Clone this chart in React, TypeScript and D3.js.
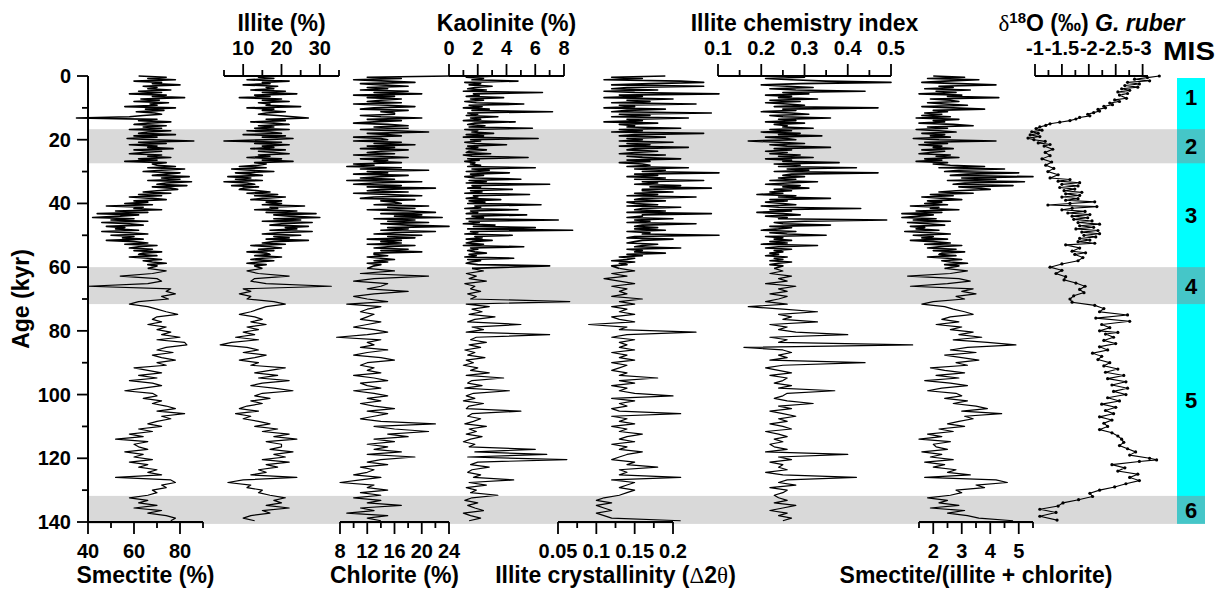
import React from "react";
import * as d3 from "d3";

// ---------------- DATA ----------------
const ages = [
  0,0.4,0.8,1.2,1.6,2,2.4,2.8,3.2,3.6,
  4,4.4,4.8,5.2,5.6,6,6.4,6.8,7.2,7.6,
  8,8.4,8.8,9.2,9.6,10,10.4,10.8,11.2,11.6,
  12,12.4,12.8,13.2,13.6,14,14.4,14.8,15.2,15.6,
  16,16.4,16.8,17.2,17.6,18,18.4,18.8,19.2,19.6,
  20,20.4,20.8,21.2,21.6,22,22.4,22.8,23.2,23.6,
  24,24.4,24.8,25.2,25.6,26,26.4,26.8,27.2,27.6,
  28,28.4,28.8,29.2,29.6,30,30.4,30.8,31.2,31.6,
  32,32.4,32.8,33.2,33.6,34,34.4,34.8,35.2,35.6,
  36,36.4,36.8,37.2,37.6,38,38.4,38.8,39.2,39.6,
  40,40.4,40.8,41.2,41.6,42,42.4,42.8,43.2,43.6,
  44,44.4,44.8,45.2,45.6,46,46.4,46.8,47.2,47.6,
  48,48.4,48.8,49.2,49.6,50,50.4,50.8,51.2,51.6,
  52,52.4,52.8,53.2,53.6,54,54.4,54.8,55.2,55.6,
  56,56.4,56.8,57.2,57.6,58,58.4,58.8,59.2,59.6,
  60.4,61.2,62,62.8,63.6,64.4,65.2,66,66.8,67.6,
  68.4,69.2,70,70.8,71.6,72.4,73.2,74,74.8,75.6,
  76.4,77.2,78,78.8,79.6,80.4,81.2,82,82.8,83.6,
  84.4,85.2,86,86.8,87.6,88.4,89.2,90,90.8,91.6,
  92.4,93.2,94,94.8,95.6,96.4,97.2,98,98.8,99.6,
  100.4,101.2,102,102.8,103.6,104.4,105.2,106,106.8,107.6,
  108.4,109.2,110,110.8,111.6,112.4,113.2,114,114.8,115.6,
  116.4,117.2,118,118.8,119.6,120.4,121.2,122,122.8,123.6,
  124.4,125.2,126,126.8,127.6,128.4,129.2,130,130.8,131.6,
  132.4,133.2,134,134.8,135.6,136.4,137.2,138,138.8,139.6,
];

const smectite = [
  62,74,66,78,60,72,68,80,64,70,
  66,76,62,72,58,74,68,82,63,71,
  60,75,67,70,56,78,65,73,61,69,
  72,64,58,35,70,62,76,66,60,74,
  64,72,58,76,66,62,78,60,70,57,
  68,86,62,74,58,70,66,77,60,72,
  64,58,72,66,76,62,70,56,74,68,
  70,78,66,82,72,64,80,74,68,84,
  72,80,66,85,74,70,83,68,76,79,
  70,64,76,62,72,58,68,74,60,66,
  56,68,48,64,60,72,52,66,44,62,
  54,42,60,50,66,46,58,64,48,56,
  52,62,46,58,66,50,60,55,64,48,
  60,66,56,70,62,58,68,60,72,64,
  62,70,58,66,72,64,68,74,66,70,
  66,74,68,54,70,72,66,40,76,74,
  78,72,75,62,58,66,70,74,79,70,
  68,72,66,74,70,76,72,80,70,82,
  83,74,70,77,68,72,78,70,74,60,
  66,72,62,70,58,68,72,64,56,68,
  70,64,72,68,74,78,70,82,72,76,
  70,66,72,62,68,58,64,52,66,60,
  62,66,56,64,60,68,58,66,62,70,
  66,72,52,76,78,72,74,68,70,66,
  58,66,62,70,60,72,66,74,78,76,
];

const illite = [
  20,14,18,11,22,15,17,10,19,16,
  18,12,21,15,24,13,17,9,20,15,
  22,14,17,16,25,11,18,15,21,16,
  14,19,23,27,16,21,12,18,22,14,
  18,13,22,11,17,20,10,21,15,23,
  16,5,20,13,22,15,18,12,21,14,
  18,22,14,17,11,20,15,23,13,16,
  14,9,16,7,12,18,8,12,15,6,
  12,8,15,5,11,13,7,14,10,9,
  14,17,11,19,13,21,15,12,20,16,
  20,15,26,17,19,13,24,16,29,18,
  22,30,18,25,15,28,20,17,27,21,
  24,17,28,19,15,25,18,22,16,27,
  18,15,21,12,17,20,14,18,11,16,
  17,13,20,15,12,18,14,11,16,13,
  15,11,14,22,13,12,16,33,10,12,
  9,12,11,18,21,16,14,12,9,13,
  15,12,16,11,14,10,13,8,14,7,
  4,11,14,10,16,13,9,14,12,21,
  17,13,19,14,22,15,12,18,23,15,
  13,17,12,15,11,9,14,8,12,10,
  14,17,13,19,15,22,18,24,16,20,
  20,17,23,18,21,15,22,16,19,14,
  16,12,24,10,6,12,11,15,14,17,
  21,18,20,16,22,15,17,12,10,13,
];

const chlorite = [
  24,12,17,10,15,19,11,14,18,12,
  15,11,18,13,20,10,16,12,17,14,
  12,17,10,15,19,13,11,18,14,16,
  16,11,14,20,12,17,13,10,15,18,
  13,18,11,16,21,12,15,17,10,14,
  15,10,17,13,19,12,16,11,18,14,
  12,16,10,14,18,11,15,13,17,10,
  13,9,17,11,21,12,15,10,18,14,
  11,16,9,20,13,10,17,12,22,14,
  12,18,10,15,20,13,11,19,14,16,
  17,13,21,15,19,12,18,22,14,20,
  16,23,13,19,15,21,14,18,24,15,
  18,14,22,16,13,20,15,19,12,17,
  14,17,12,19,15,13,18,14,20,13,
  13,15,12,14,16,13,15,12,14,13,
  12,16,11,21,13,10,15,14,12,18,
  13,10,12,15,9,14,12,11,13,12,
  11,14,12,10,13,15,12,7.5,14,12,
  13,11,15,12,10,14,16,12,11,13,
  12,14,10,13,15,11,12,14,10,13,
  15,12,14,11,13,16,12,15,13,11,
  14,22,13,16,21,15,18,13,16,12,
  15,13,17,12,19,14,12,15,11,13,
  12,10,14,11,8,13,12,15,11,14,
  10,14,12,17,11,13,9,15,12,14,
];

const kaolinite = [
  3.5,1.2,2.4,1.6,4.8,1.1,2.2,1.4,3.0,1.8,
  1.3,2.6,1.0,6.5,1.7,2.1,1.2,3.8,1.5,2.4,
  1.1,1.9,5.2,1.4,2.3,1.0,2.8,1.6,7.2,1.3,
  2.0,1.2,3.4,1.5,2.2,1.0,4.6,1.8,1.3,2.5,
  1.4,5.8,1.1,2.0,1.6,3.1,1.2,2.4,1.0,6.2,
  1.5,2.2,1.1,1.8,4.0,1.3,2.0,1.2,2.6,1.4,
  1.2,2.9,1.0,1.6,5.5,1.3,2.1,1.1,1.8,1.5,
  2.2,1.3,6.0,1.6,2.8,1.2,4.2,1.5,2.4,1.1,
  1.8,5.0,1.4,2.6,1.2,7.0,1.6,2.2,1.3,4.4,
  1.5,2.3,1.1,5.6,1.7,2.0,1.2,3.6,1.4,2.5,
  1.3,6.4,1.8,2.2,1.1,4.8,1.5,2.0,1.2,5.4,
  1.6,2.4,1.2,7.6,1.4,2.1,1.0,3.2,1.7,6.0,
  1.3,8.6,1.5,2.0,1.1,4.4,1.8,2.3,1.2,3.0,
  1.6,1.2,2.4,1.0,5.2,1.5,2.0,1.3,1.8,2.6,
  1.4,1.9,1.1,4.5,1.3,2.2,1.5,1.2,2.0,7.0,
  1.6,2.4,1.2,1.9,1.4,2.6,1.1,1.8,1.5,2.2,
  1.3,1.9,1.5,8.4,1.2,2.8,1.6,2.3,1.4,3.2,
  1.8,1.3,5.0,1.6,2.4,1.2,7.0,1.9,1.5,2.6,
  1.4,2.2,1.1,1.8,1.3,2.5,1.2,1.7,1.0,2.0,
  1.5,2.8,1.2,3.8,1.6,1.3,2.3,1.1,4.2,1.7,
  1.2,1.8,1.0,2.4,1.4,1.2,5.0,1.6,1.3,2.2,
  1.7,1.1,2.6,1.4,1.9,1.2,2.3,1.5,1.0,1.8,
  1.4,6.0,1.8,6.8,1.3,8.2,2.0,1.5,2.8,1.6,
  1.3,2.2,1.7,4.5,1.4,2.6,1.2,1.9,1.5,3.4,
  1.6,1.1,2.0,1.3,1.8,2.4,1.0,1.5,2.2,1.4,
];

const crystallinity = [
  0.19,0.12,0.16,0.11,0.21,0.24,0.17,0.12,0.24,0.14,
  0.12,0.18,0.11,0.15,0.26,0.13,0.16,0.11,0.20,0.14,
  0.17,0.12,0.23,0.13,0.15,0.11,0.19,0.14,0.12,0.25,
  0.13,0.17,0.12,0.22,0.14,0.16,0.11,0.18,0.13,0.15,
  0.14,0.21,0.13,0.16,0.12,0.24,0.15,0.13,0.19,0.14,
  0.16,0.13,0.20,0.14,0.17,0.13,0.22,0.15,0.14,0.18,
  0.15,0.13,0.19,0.14,0.16,0.21,0.14,0.17,0.13,0.16,
  0.17,0.14,0.22,0.15,0.19,0.16,0.26,0.15,0.18,0.14,
  0.19,0.15,0.24,0.16,0.18,0.15,0.21,0.17,0.25,0.16,
  0.16,0.20,0.15,0.18,0.14,0.23,0.16,0.15,0.19,0.14,
  0.15,0.18,0.14,0.21,0.16,0.15,0.19,0.14,0.25,0.16,
  0.16,0.14,0.20,0.15,0.17,0.14,0.23,0.16,0.15,0.18,
  0.15,0.19,0.14,0.17,0.16,0.26,0.15,0.14,0.20,0.16,
  0.15,0.14,0.18,0.16,0.15,0.21,0.14,0.16,0.15,0.19,
  0.14,0.16,0.13,0.15,0.14,0.12,0.15,0.13,0.14,0.12,
  0.13,0.15,0.12,0.14,0.11,0.13,0.15,0.12,0.14,0.13,
  0.14,0.12,0.16,0.13,0.15,0.12,0.14,0.13,0.15,0.12,
  0.13,0.15,0.09,0.14,0.13,0.23,0.14,0.12,0.15,0.13,
  0.14,0.13,0.15,0.12,0.14,0.13,0.15,0.12,0.14,0.13,
  0.12,0.14,0.13,0.18,0.13,0.15,0.12,0.14,0.13,0.15,
  0.20,0.12,0.15,0.13,0.14,0.12,0.13,0.21,0.12,0.14,
  0.13,0.15,0.12,0.14,0.13,0.16,0.14,0.13,0.15,0.12,
  0.14,0.13,0.16,0.14,0.13,0.12,0.15,0.14,0.18,0.13,
  0.14,0.13,0.21,0.12,0.15,0.14,0.13,0.15,0.14,0.13,
  0.11,0.10,0.12,0.10,0.11,0.12,0.10,0.11,0.12,0.21,
];

const chemistry = [
  0.24,0.30,0.21,0.27,0.35,0.50,0.29,0.20,0.26,0.32,
  0.22,0.28,0.44,0.25,0.31,0.21,0.27,0.24,0.33,0.22,
  0.29,0.21,0.26,0.30,0.23,0.47,0.25,0.28,0.20,0.27,
  0.31,0.22,0.25,0.36,0.24,0.28,0.21,0.30,0.23,0.26,
  0.25,0.32,0.22,0.27,0.20,0.29,0.24,0.34,0.21,0.26,
  0.28,0.17,0.24,0.30,0.22,0.26,0.36,0.23,0.27,0.21,
  0.26,0.22,0.29,0.24,0.32,0.21,0.27,0.25,0.38,0.23,
  0.29,0.24,0.42,0.26,0.31,0.23,0.47,0.27,0.25,0.30,
  0.24,0.28,0.22,0.33,0.26,0.21,0.29,0.25,0.31,0.23,
  0.27,0.22,0.25,0.19,0.28,0.24,0.36,0.22,0.26,0.21,
  0.25,0.28,0.20,0.24,0.43,0.22,0.27,0.19,0.25,0.29,
  0.21,0.26,0.24,0.49,0.30,0.23,0.25,0.36,0.22,0.27,
  0.24,0.20,0.28,0.22,0.26,0.35,0.21,0.25,0.23,0.27,
  0.22,0.26,0.20,0.33,0.24,0.21,0.27,0.23,0.25,0.22,
  0.24,0.21,0.26,0.23,0.25,0.22,0.27,0.24,0.22,0.25,
  0.23,0.25,0.22,0.27,0.24,0.26,0.21,0.28,0.24,0.26,
  0.22,0.26,0.24,0.21,0.26,0.17,0.25,0.33,0.24,0.27,
  0.25,0.33,0.22,0.26,0.24,0.28,0.40,0.22,0.26,0.24,
  0.55,0.16,0.25,0.27,0.24,0.26,0.22,0.44,0.25,0.21,
  0.24,0.27,0.22,0.26,0.25,0.23,0.27,0.24,0.37,0.26,
  0.25,0.23,0.26,0.32,0.24,0.27,0.22,0.25,0.28,0.24,
  0.26,0.22,0.25,0.27,0.21,0.24,0.26,0.23,0.25,0.22,
  0.23,0.26,0.21,0.40,0.24,0.27,0.22,0.25,0.24,0.26,
  0.21,0.25,0.42,0.26,0.24,0.28,0.22,0.26,0.25,0.23,
  0.24,0.26,0.23,0.28,0.25,0.22,0.26,0.24,0.27,0.25,
];

const ratio = [
  2.0,3.1,1.8,3.6,2.4,1.6,2.9,4.2,2.2,2.7,
  1.7,3.3,2.1,2.8,1.5,3.0,2.5,4.3,1.9,2.6,
  2.9,1.8,2.4,3.2,1.6,2.7,3.8,2.0,2.5,1.7,
  2.3,1.6,2.6,1.4,2.9,2.0,2.4,1.5,2.7,3.4,
  1.8,2.5,1.4,2.2,2.8,1.6,2.4,1.9,2.6,1.3,
  2.2,4.2,1.7,2.5,1.5,2.3,2.0,2.7,1.6,2.4,
  1.9,1.5,2.6,2.1,2.9,1.7,2.3,1.4,2.5,2.0,
  2.6,3.8,2.2,4.5,2.9,2.4,5.0,3.2,2.6,5.5,
  3.0,4.2,2.5,5.2,3.1,2.7,4.8,2.9,3.6,4.0,
  2.8,2.2,3.4,1.9,2.7,1.6,2.4,3.0,1.8,2.3,
  1.7,2.5,1.2,2.2,1.9,2.9,1.4,2.3,0.9,2.0,
  1.5,0.9,2.1,1.3,2.6,1.1,1.8,2.4,1.2,1.7,
  1.4,2.2,1.0,1.9,2.6,1.3,2.0,1.6,2.5,1.2,
  2.0,2.6,1.7,3.0,2.2,1.8,2.8,2.0,3.1,2.3,
  2.2,2.8,1.8,2.5,3.0,2.3,2.6,3.2,2.4,2.9,
  2.4,3.2,2.6,1.1,2.9,3.3,2.5,1.2,3.4,3.0,
  3.5,2.8,3.1,2.0,1.6,2.4,2.7,3.1,3.4,2.6,
  2.3,2.9,2.1,3.0,2.6,3.4,2.9,3.7,2.7,3.9,
  4.9,3.2,2.6,3.5,2.4,3.0,3.6,2.8,3.2,1.9,
  2.4,3.1,2.1,2.9,1.7,2.6,3.2,2.3,1.8,2.8,
  3.0,2.4,3.2,2.7,3.5,3.9,3.0,4.4,3.1,3.4,
  2.9,2.5,3.1,2.2,2.7,1.8,2.3,1.5,2.6,2.0,
  2.1,2.5,1.6,2.3,1.9,2.7,1.7,2.4,2.0,2.8,
  2.5,3.3,1.7,4.2,4.6,3.5,3.8,2.8,3.0,2.6,
  1.8,2.5,2.2,2.9,1.9,3.1,2.5,3.2,3.6,4.8,
];

// δ18O G. ruber: [age kyr, ‰]
const d18O: [number, number][] = [
  [0,-3.31],[0.5,-3.09],[1,-2.85],[1.5,-3.13],[2,-2.72],[2.5,-2.94],[3,-2.67],[3.5,-2.91],[4,-2.61],[4.5,-2.76],
  [5,-2.54],[5.5,-2.72],[6,-2.57],[7,-2.7],[7.5,-2.48],[8,-2.57],[8.5,-2.39],[9,-2.44],[9.5,-2.28],[10,-2.31],
  [10.5,-2.17],[11,-2.2],[11.5,-2.09],[12,-1.98],[12.5,-2.02],[13,-1.83],[13.5,-1.76],[14,-1.65],[14.5,-1.46],[15,-1.28],
  [15.5,-1.2],[16,-1.09],[16.5,-1.02],[17,-1.13],[17.5,-0.94],[18,-1.06],[18.5,-0.91],[19,-1.09],[19.5,-0.87],[20,-0.98],
  [20.5,-1.19],[21,-1.06],[21.5,-1.28],[22,-1.17],[23,-1.33],[24,-1.19],[25,-1.28],[26,-1.13],[27,-1.31],[28,-1.2],
  [29,-1.35],[30,-1.24],[31,-1.43],[32,-1.28],[32.5,-1.65],[33,-1.43],[33.5,-1.83],[34,-1.5],[34.5,-1.8],[35,-1.46],
  [35.5,-1.74],[36,-1.54],[36.5,-1.87],[37,-1.57],[37.5,-1.83],[38,-1.5],[38.5,-1.8],[39,-1.57],[39.5,-2.11],[40,-1.65],
  [40.5,-1.24],[41,-2.15],[41.5,-1.69],[42,-1.5],[42.5,-1.93],[43,-1.61],[43.5,-2.02],[44,-1.69],[44.5,-1.98],[45,-1.72],
  [45.5,-2.06],[46,-1.8],[46.5,-2.2],[47,-1.83],[47.5,-2.09],[48,-1.76],[48.5,-2.17],[49,-1.87],[49.5,-2.2],[50,-1.91],
  [50.5,-2.13],[51,-1.83],[51.5,-2.02],[52,-1.8],[52.5,-2.11],[53,-1.57],[54,-1.83],[55,-1.69],[55.5,-1.94],[56,-1.74],
  [57,-1.89],[58,-1.8],[59,-1.5],[60,-1.28],[61,-1.5],[62,-1.39],[63,-1.57],[64,-1.54],[65,-1.76],[66,-1.93],
  [67,-1.83],[68,-1.91],[69,-1.72],[70,-1.65],[71,-1.69],[72,-2.11],[73,-2.28],[74,-2.2],[75,-2.72],[76,-2.13],
  [77,-2.76],[78,-2.24],[79,-2.39],[80,-2.2],[80.5,-2.54],[81,-2.31],[82,-2.46],[83,-2.28],[84,-2.5],[85,-2.2],
  [86,-2.35],[87,-2.07],[88,-2.24],[89,-2.17],[90,-2.39],[91,-2.28],[92,-2.54],[93,-2.31],[94,-2.65],[95,-2.35],
  [96,-2.69],[97,-2.43],[98,-2.72],[99,-2.46],[100,-2.69],[101,-2.35],[102,-2.57],[103,-2.24],[104,-2.5],[105,-2.31],
  [106,-2.46],[107,-2.2],[108,-2.43],[109,-2.28],[110,-2.35],[111,-2.2],[112,-2.43],[113,-2.54],[114,-2.61],[115,-2.65],
  [116,-2.57],[117,-2.72],[118,-2.87],[119,-2.76],[120,-3.13],[120.5,-3.26],[121,-2.94],[122,-2.43],[123,-2.67],[124,-2.54],
  [125,-2.91],[126,-2.76],[127,-2.94],[128,-2.69],[129,-2.48],[130,-2.2],[131,-2.02],[132,-2.07],[133,-1.81],[134,-1.52],
  [135,-1.43],[136,-1.09],[137,-1.39],[138.2,-1.09],[139.4,-1.41],
];

const misBands = [
  { start: 16.7, end: 27.4 },
  { start: 60, end: 71.6 },
  { start: 131.8, end: 140.6 },
];
const misLabels = [
  { label: "1", age: 6.5 },
  { label: "2", age: 22 },
  { label: "3", age: 43.7 },
  { label: "4", age: 65.8 },
  { label: "5", age: 101.7 },
  { label: "6", age: 136.2 },
];

const ageTicks = [0, 20, 40, 60, 80, 100, 120, 140];
const ageMinorTicks = [10, 30, 50, 70, 90, 110, 130];

const smectiteTicks = [40, 60, 80];
const smectiteMinor = [50, 70, 90];
const illiteTicks = [10, 20, 30];
const illiteMinor = [5, 15, 25, 35];
const chloriteTicks = [8, 12, 16, 20, 24];
const chloriteMinor = [10, 14, 18, 22];
const kaoliniteTicks = [0, 2, 4, 6, 8];
const kaoliniteMinor = [1, 3, 5, 7];
const crystTicks = [0.05, 0.1, 0.15, 0.2];
const crystMinor = [0.075, 0.125, 0.175];
const chemTicks = [0.1, 0.2, 0.3, 0.4, 0.5];
const chemMinor = [0.15, 0.25, 0.35, 0.45];
const ratioTicks = [2, 3, 4, 5];
const ratioMinor = [1.5, 2.5, 3.5, 4.5, 5.5];
const d18OTicks = [-1, -1.5, -2, -2.5, -3];
const d18OMinor = [-1.25, -1.75, -2.25, -2.75];

// ---------------- CHART ----------------
const FONT = "'Liberation Sans', Arial, Helvetica, sans-serif";
const SERIF = "'Liberation Serif', 'Times New Roman', serif";
const DENSE_END_AGE = 60; // high-resolution part of the record

type Panel = {
  id: string;
  values: number[];
  domain: [number, number];
  range: [number, number];
  side: "top" | "bottom";
  major: number[];
  minor: number[];
  title: React.ReactNode;
};

export default function App() {
  const W = 1226;
  const H = 597;
  const y = d3.scaleLinear().domain([0, 140]).range([76, 522]);
  const yTop = y(0);
  const yBot = y(140);
  const axisX = 88;
  const misX0 = 1177;
  const misX1 = 1205;

  const panels: Panel[] = [
    { id: "smectite", values: smectite, domain: [40, 90], range: [88, 203], side: "bottom", major: smectiteTicks, minor: smectiteMinor, title: "Smectite (%)" },
    { id: "illite", values: illite, domain: [5, 35], range: [224, 339], side: "top", major: illiteTicks, minor: illiteMinor, title: "Illite (%)" },
    { id: "chlorite", values: chlorite, domain: [8, 24], range: [340, 449], side: "bottom", major: chloriteTicks, minor: chloriteMinor, title: "Chlorite (%)" },
    { id: "kaolinite", values: kaolinite, domain: [0, 8], range: [449, 564], side: "top", major: kaoliniteTicks, minor: kaoliniteMinor, title: "Kaolinite (%)" },
    {
      id: "cryst", values: crystallinity, domain: [0.05, 0.2], range: [558, 673], side: "bottom", major: crystTicks, minor: crystMinor,
      title: (
        <>
          <tspan>Illite crystallinity (</tspan>
          <tspan fontFamily={SERIF} fontWeight="normal">Δ</tspan>
          <tspan>2</tspan>
          <tspan fontFamily={SERIF} fontWeight="normal">θ</tspan>
          <tspan>)</tspan>
        </>
      ),
    },
    { id: "chem", values: chemistry, domain: [0.1, 0.5], range: [718, 891], side: "top", major: chemTicks, minor: chemMinor, title: "Illite chemistry index" },
    { id: "ratio", values: ratio, domain: [1.5, 5.5], range: [919, 1033], side: "bottom", major: ratioTicks, minor: ratioMinor, title: "Smectite/(illite + chlorite)" },
  ];

  const d18OScale = d3.scaleLinear().domain([-1, -3.1]).range([1035, 1148]);

  const renderAxis = (
    key: string,
    scale: d3.ScaleLinear<number, number>,
    side: "top" | "bottom",
    major: number[],
    minor: number[],
    title: React.ReactNode
  ) => {
    const [r0, r1] = scale.range();
    const ay = side === "top" ? yTop : yBot;
    const dir = side === "top" ? -1 : 1;
    const labelY = side === "top" ? 55 : 558;
    const titleY = side === "top" ? 31 : 583;
    const cx = (r0 + r1) / 2;
    return (
      <g key={"axis-" + key}>
        <line x1={Math.min(r0, r1)} x2={Math.max(r0, r1)} y1={ay} y2={ay} stroke="#000" strokeWidth={2} />
        {major.map((t) => (
          <line key={"M" + t} x1={scale(t)} x2={scale(t)} y1={ay} y2={ay + dir * 12} stroke="#000" strokeWidth={1.8} />
        ))}
        {minor.map((t) => (
          <line key={"m" + t} x1={scale(t)} x2={scale(t)} y1={ay} y2={ay + dir * 6} stroke="#000" strokeWidth={1.8} />
        ))}
        {major.map((t) => (
          <text key={"L" + t} x={scale(t)} y={labelY} textAnchor="middle" fontSize={20} fontWeight="bold">
            {String(t)}
          </text>
        ))}
        <text x={cx} y={titleY} textAnchor="middle" fontSize={23} fontWeight="bold">
          {title}
        </text>
      </g>
    );
  };

  const d18OLine = d3
    .line<[number, number]>()
    .x((d) => d18OScale(d[1]))
    .y((d) => y(d[0]));

  // index of last high-resolution sample (inclusive) and first of the coarse part
  const lastDense = ages.findIndex((a) => a > DENSE_END_AGE) - 1;

  return (
    <svg
      width={W}
      height={H}
      viewBox={`0 0 ${W} ${H}`}
      style={{ position: "absolute", left: 0, top: 0, background: "#fff" }}
      fontFamily={FONT}
    >
      <rect x={0} y={0} width={W} height={H} fill="#fff" />

      {/* MIS column */}
      <rect x={misX0} y={yTop + 2} width={misX1 - misX0} height={y(140.3) - yTop - 2} fill="#00ffff" />

      {/* glacial bands */}
      {misBands.map((b, i) => (
        <g key={"band" + i}>
          <rect x={axisX} y={y(b.start)} width={misX0 - axisX} height={y(b.end) - y(b.start)} fill="#d9d9d9" />
          <rect x={misX0} y={y(b.start)} width={misX1 - misX0} height={y(b.end) - y(b.start)} fill="#45c6c8" />
        </g>
      ))}

      {/* data series */}
      {panels.map((p) => {
        const xs = d3.scaleLinear().domain(p.domain).range(p.range);
        const denseLine = d3
          .line<number>()
          .defined((_, i) => i <= lastDense + 1)
          .x((v) => xs(v))
          .y((_, i) => y(ages[i]));
        const coarseLine = d3
          .line<number>()
          .defined((_, i) => i >= lastDense + 1 && i < ages.length)
          .x((v) => xs(v))
          .y((_, i) => y(ages[i]));
        return (
          <g key={"line-" + p.id}>
            <path d={denseLine(p.values) || ""} fill="none" stroke="#000" strokeWidth={1.6} strokeLinejoin="round" />
            <path d={coarseLine(p.values) || ""} fill="none" stroke="#000" strokeWidth={1.2} strokeLinejoin="round" />
          </g>
        );
      })}

      {/* δ18O */}
      <path d={d18OLine(d18O) || ""} fill="none" stroke="#000" strokeWidth={1.1} />
      {d18O.map((d, i) => (
        <circle key={"o" + i} cx={d18OScale(d[1])} cy={y(d[0])} r={1.6} fill="#000" />
      ))}

      {/* panel axes */}
      {panels.map((p) =>
        renderAxis(p.id, d3.scaleLinear().domain(p.domain).range(p.range), p.side, p.major, p.minor, p.title)
      )}
      {renderAxis(
        "d18o",
        d18OScale,
        "top",
        d18OTicks,
        d18OMinor,
        <>
          <tspan fontFamily={SERIF} fontWeight="normal">δ</tspan>
          <tspan fontSize={15} dy={-8}>18</tspan>
          <tspan dy={8}>O (‰) </tspan>
          <tspan fontStyle="italic">G. ruber</tspan>
        </>
      )}

      {/* Age axis */}
      <g>
        <line x1={axisX} x2={axisX} y1={yTop} y2={yBot} stroke="#000" strokeWidth={2} />
        {ageTicks.map((t) => (
          <g key={"at" + t}>
            <line x1={axisX - 11} x2={axisX} y1={y(t)} y2={y(t)} stroke="#000" strokeWidth={1.8} />
            <text x={71} y={y(t)} dy="0.35em" textAnchor="end" fontSize={20} fontWeight="bold">
              {t}
            </text>
          </g>
        ))}
        {ageMinorTicks.map((t) => (
          <line key={"am" + t} x1={axisX - 6} x2={axisX} y1={y(t)} y2={y(t)} stroke="#000" strokeWidth={1.8} />
        ))}
        <text transform={`translate(29, ${y(70)}) rotate(-90)`} textAnchor="middle" fontSize={23} fontWeight="bold">
          Age (kyr)
        </text>
      </g>

      {/* MIS labels */}
      <text x={(misX0 + misX1) / 2 - 2} y={60} textAnchor="middle" fontSize={26} fontWeight="bold" textLength={52} lengthAdjust="spacingAndGlyphs">
        MIS
      </text>
      {misLabels.map((m) => (
        <text key={"mis" + m.label} x={(misX0 + misX1) / 2} y={y(m.age)} dy="0.36em" textAnchor="middle" fontSize={22} fontWeight="bold">
          {m.label}
        </text>
      ))}
    </svg>
  );
}
